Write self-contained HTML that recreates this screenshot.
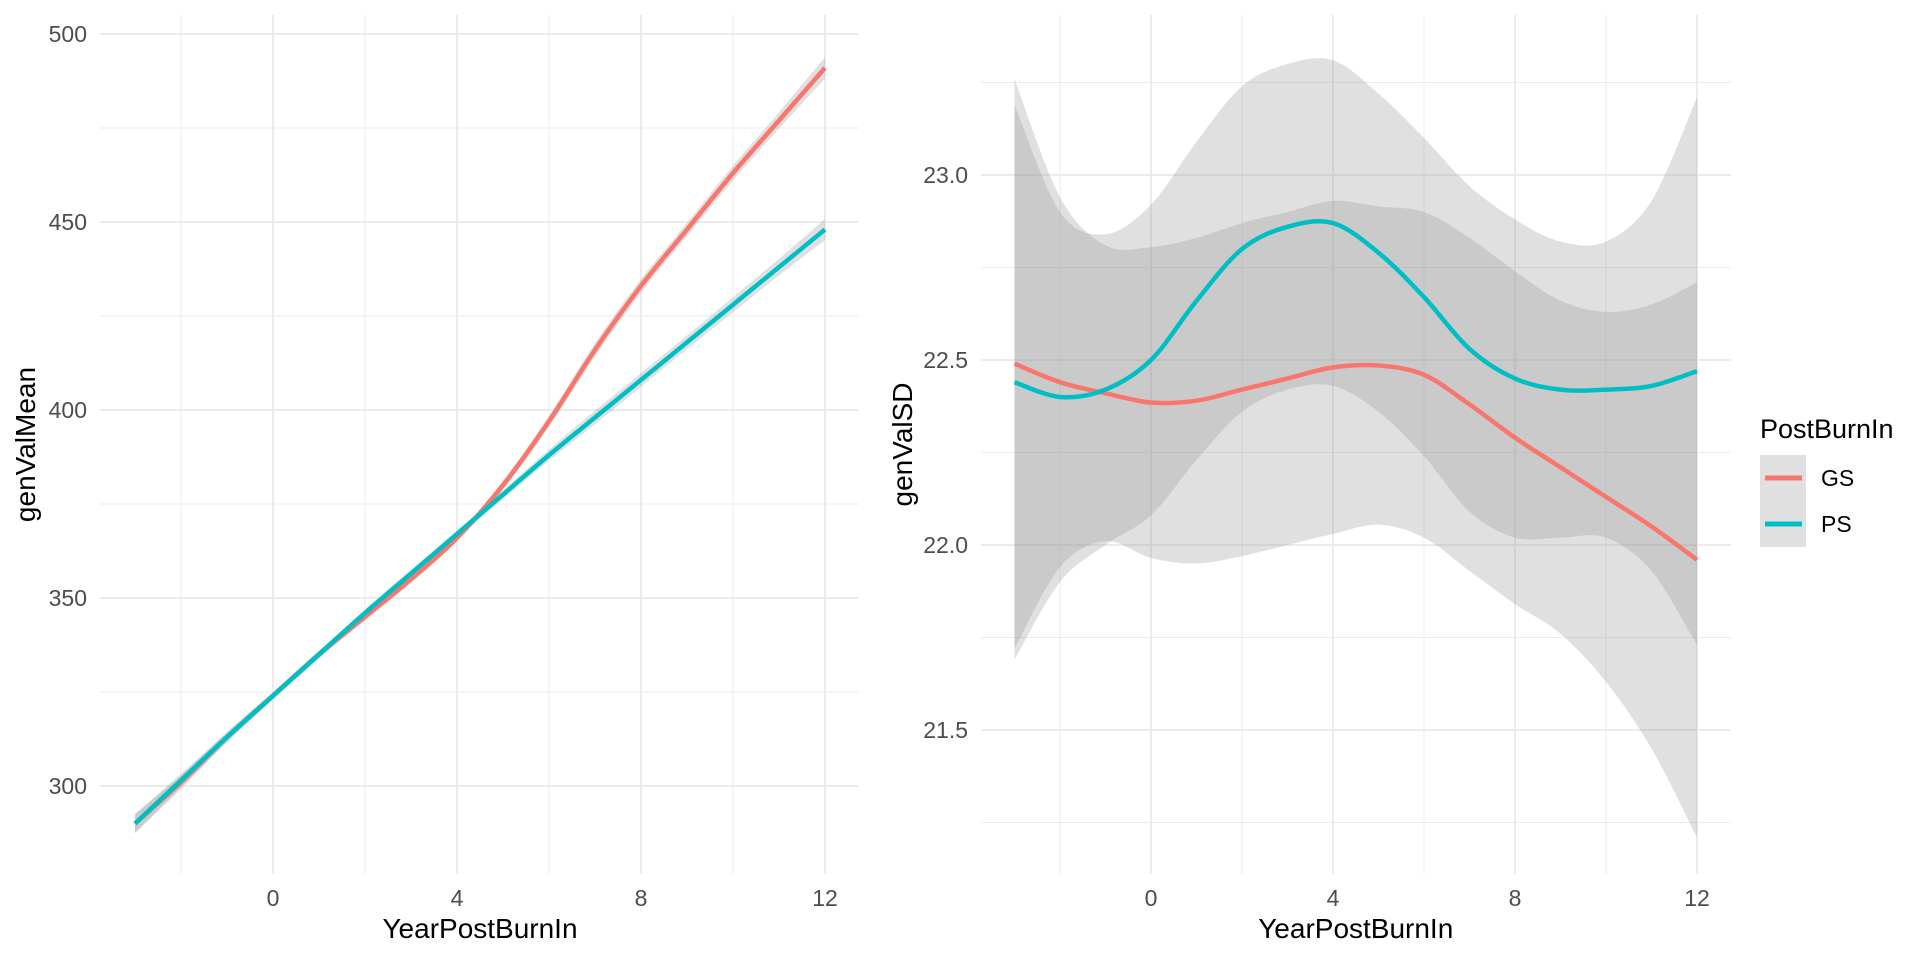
<!DOCTYPE html>
<html><head><meta charset="utf-8"><style>
html,body{margin:0;padding:0;background:#fff}
svg{display:block}
text{font-family:"Liberation Sans",Arial,sans-serif}
</style></head><body>
<svg id="c" width="1920" height="960" viewBox="0 0 1920 960"></svg>
<script>
const years=[-3,-2,-1,0,1,2,3,4,5,6,7,8,9,10,11,12];
const gsMean=[290,301,313,324,335,345,355,366,380,397,416,433,448,463,477,491];
const psMean=[290,301.5,313,324,335,346,356.5,367,377.5,388,398,408,418,428,438,448];
const meanSe=[2.5,1.8,1.3,1,1,1,1,1,1.2,1.5,1.8,1.8,1.8,2,2.2,2.8];
const gsSD=[22.49,22.44,22.41,22.385,22.39,22.42,22.45,22.48,22.485,22.46,22.38,22.29,22.21,22.13,22.05,21.96];
const psSD=[22.44,22.40,22.42,22.50,22.66,22.80,22.86,22.87,22.79,22.67,22.53,22.45,22.42,22.42,22.43,22.47];
const gsSe=[0.77,0.5,0.4,0.42,0.44,0.45,0.45,0.45,0.43,0.44,0.45,0.45,0.45,0.5,0.6,0.75];
const psSe=[0.75,0.5,0.42,0.42,0.43,0.44,0.44,0.44,0.43,0.43,0.44,0.43,0.4,0.4,0.5,0.74];
const xTicks=[0,4,8,12], xMinor=[-2,2,6,10];
const leftTicks=[300,350,400,450,500], leftMinor=[325,375,425,475];
const rightTicks=[21.5,22.0,22.5,23.0], rightMinor=[21.25,21.75,22.25,22.75,23.25];

const NS="http://www.w3.org/2000/svg";
const svg=document.getElementById('c');
function mk(tag,attrs,parent){const e=document.createElementNS(NS,tag);for(const k in attrs)e.setAttribute(k,attrs[k]);(parent||svg).appendChild(e);return e;}
function smooth(pts){let d="M"+pts[0][0]+","+pts[0][1];for(let i=0;i<pts.length-1;i++){const p0=pts[Math.max(i-1,0)],p1=pts[i],p2=pts[i+1],p3=pts[Math.min(i+2,pts.length-1)];
d+=" C"+(p1[0]+(p2[0]-p0[0])/6)+","+(p1[1]+(p2[1]-p0[1])/6)+" "+(p2[0]-(p3[0]-p1[0])/6)+","+(p2[1]-(p3[1]-p1[1])/6)+" "+p2[0]+","+p2[1];}return d;}
function smoothCont(pts){return smooth(pts).replace(/^M/,"L");}

function panel(cfg){
  const g=mk('g',{});
  
  
  const xs=v=>cfg.x0+v*cfg.xu, ys=v=>cfg.y0-(v-cfg.v0)*cfg.yu;
  const L=cfg.left,R=cfg.right,T=15,B=874;
  cfg.ymin.forEach(v=>{const l=mk('line',{x1:L,x2:R,y1:ys(v),y2:ys(v),stroke:'#ebebeb','stroke-width':1},g);});
  xMinor.forEach(v=>{const l=mk('line',{x1:xs(v),x2:xs(v),y1:T,y2:B,stroke:'#ebebeb','stroke-width':1},g);});
  cfg.yt.forEach(v=>{const l=mk('line',{x1:L,x2:R,y1:ys(v),y2:ys(v),stroke:'#ebebeb','stroke-width':2},g);
    const t=mk('text',{x:L-13,y:ys(v)+8,'text-anchor':'end','font-size':23,fill:'#4d4d4d'},g);t.textContent=cfg.fmt(v);});
  xTicks.forEach(v=>{const l=mk('line',{x1:xs(v),x2:xs(v),y1:T,y2:B,stroke:'#ebebeb','stroke-width':2},g);
    const t=mk('text',{x:xs(v),y:906,'text-anchor':'middle','font-size':23,fill:'#4d4d4d'},g);t.textContent=v;});
  cfg.series.forEach(s=>{
    const up=years.map((x,i)=>[xs(x),ys(s.m[i]+s.se[i])]);
    const lo=years.map((x,i)=>[xs(x),ys(s.m[i]-s.se[i])]).reverse();
    const b=mk('path',{d:smooth(up)+" "+smoothCont(lo)+" Z",fill:'#999999','fill-opacity':0.3},g);
    
  });
  cfg.series.forEach(s=>{
    const p=mk('path',{d:smooth(years.map((x,i)=>[xs(x),ys(s.m[i])])),fill:'none',stroke:s.c,'stroke-width':4.5},g);
    
  });
  const xt=mk('text',{x:(xs(-3.75)+xs(12.75))/2,y:938,'text-anchor':'middle','font-size':28,fill:'#000'},g);xt.textContent='YearPostBurnIn';
  
  const yt=mk('text',{x:0,y:0,'text-anchor':'middle','font-size':28,fill:'#000',transform:`translate(${cfg.ytx},${(T+B)/2}) rotate(-90)`},g);yt.textContent=cfg.ytitle;
  
}
panel({name:'mean-panel',x0:273,xu:46,y0:786,v0:300,yu:3.76,left:100,right:859,yt:leftTicks,ymin:leftMinor,fmt:v=>v,ytitle:'genValMean',ytx:35,
  series:[{key:'gs',m:gsMean,se:meanSe,c:'#F8766D'},{key:'ps',m:psMean,se:meanSe,c:'#00BFC4'}]});
panel({name:'sd-panel',x0:1151,xu:45.5,y0:175,v0:23,yu:370,left:981,right:1731,yt:rightTicks,ymin:rightMinor,fmt:v=>v.toFixed(1),ytitle:'genValSD',ytx:912,
  series:[{key:'gs',m:gsSD,se:gsSe,c:'#F8766D'},{key:'ps',m:psSD,se:psSe,c:'#00BFC4'}]});
</script>
<svg style="position:absolute;left:0;top:0" width="1920" height="960">
<text x="1760" y="438" font-size="27" fill="#000">PostBurnIn</text>
<rect x="1760" y="455" width="46" height="92" fill="#e0e0e0"/>
<line x1="1765" x2="1802" y1="478" y2="478" stroke="#F8766D" stroke-width="5"/>
<line x1="1765" x2="1802" y1="524" y2="524" stroke="#00BFC4" stroke-width="5"/>
<text x="1821" y="486" font-size="23" fill="#000">GS</text>
<text x="1821" y="532" font-size="23" fill="#000">PS</text>
</svg>
</body></html>
